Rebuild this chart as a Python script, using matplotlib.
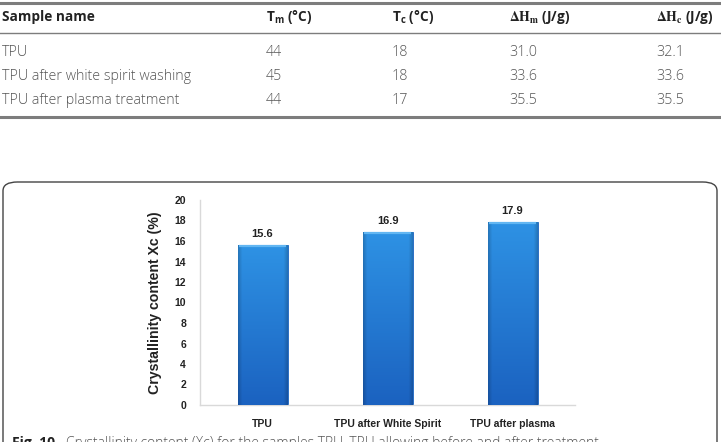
import numpy as np
import matplotlib
matplotlib.use("Agg")
from matplotlib import pyplot as plt
from matplotlib.patches import FancyBboxPatch
from matplotlib.lines import Line2D
from matplotlib.colors import to_rgb

# table data
col_heads = ["Sample name", r"$\mathbf{T_m}$ (°C)", r"$\mathbf{T_c}$ (°C)",
             r"$\mathbf{\Delta H_m}$ (J/g)", r"$\mathbf{\Delta H_c}$ (J/g)"]
sample_names = ["TPU", "TPU after white spirit washing", "TPU after plasma treatment"]
Tm = ["44", "45", "44"]
Tc = ["18", "18", "17"]
dHm = ["31.0", "33.6", "35.5"]
dHc = ["32.1", "33.6", "35.5"]

# bar chart data
samples = ["TPU", "TPU after White Spirit", "TPU after plasma"]
xc = [15.6, 16.9, 17.9]

W, H = 721, 442
plt.rcParams["mathtext.fontset"] = "custom"
plt.rcParams["mathtext.bf"] = "Open Sans:bold"
plt.rcParams["mathtext.rm"] = "Open Sans"
fig = plt.figure(figsize=(W / 100, H / 100), dpi=100)


def fx(px):
    return px / W


def fy(py):
    return 1 - py / H


# ---- table ----
for y, lw, c in [(3, 2.2, "#7d7d7d"), (33, 1.0, "#7d7d7d"), (117, 2.2, "#7d7d7d")]:
    fig.add_artist(Line2D([0, 1], [fy(y), fy(y)], lw=lw, color=c))

col_x = [2, 266, 392, 509, 656]
for i, (x, t) in enumerate(zip(col_x, col_heads)):
    mf = "stix" if i >= 3 else "custom"
    fig.text(fx(x), fy(17), t, fontsize=9.8, family="Open Sans", weight="bold",
             color="#222222", va="center", math_fontfamily=mf)

rows = list(zip(sample_names, Tm, Tc, dHm, dHc))
for i, row in enumerate(rows):
    y = [53, 77, 100][i]
    for x, t in zip(col_x, row):
        fig.text(fx(x), fy(y), t, fontsize=10.3, family="Open Sans", weight="light",
                 color="#555555", va="center")

# ---- figure box ----
box = FancyBboxPatch((fx(3), fy(470)), fx(714), fy(182) - fy(470),
                     boxstyle="round,pad=0,rounding_size=0.02",
                     transform=fig.transFigure, fill=False, ec="#444444", lw=1.0)
fig.add_artist(box)

# ---- bar chart ----
ax = fig.add_axes([fx(200), fy(405), fx(575) - fx(200), fy(200) - fy(405)])
x = np.arange(len(samples))
bw = 0.4
bars = ax.bar(x, xc, width=bw, color="#2478d2", edgecolor="#1c64c0", lw=0.6, zorder=2)

# vertical gradient with darker bevelled sides
top_c = np.array(to_rgb("#2e92e4"))
bot_c = np.array(to_rgb("#1b62c0"))
vt = np.linspace(0, 1, 80)[:, None, None]
img = bot_c * (1 - vt) + top_c * vt
hz = np.linspace(0, 1, 60)
shade = 1 - 0.18 * np.clip((0.08 - np.minimum(hz, 1 - hz)) / 0.08, 0, 1)
img = img * shade[None, :, None]
for b in bars:
    im = ax.imshow(img, extent=(b.get_x(), b.get_x() + b.get_width(), 0, b.get_height()),
                   origin="lower", aspect="auto", zorder=3)
    im.set_clip_path(b)
    ax.plot([b.get_x() + 0.012, b.get_x() + b.get_width() - 0.012],
            [b.get_height() - 0.1] * 2, color="#62b6f2", lw=1.6, zorder=4,
            solid_capstyle="butt")

for xi, v in zip(x, xc):
    ax.text(xi, v + 0.55, f"{v}", ha="center", va="bottom", fontsize=8,
            family="Liberation Sans", weight="bold", color="#222222")

ax.set_xlim(-0.5, 2.5)
ax.set_ylim(0, 20)
ax.set_yticks(range(0, 21, 2))
ax.set_xticks(x)
ax.set_xticklabels(samples)
ax.tick_params(length=0, pad=10)
ax.tick_params(axis="y", pad=10)
for lab in ax.get_xticklabels() + ax.get_yticklabels():
    lab.set_family("Liberation Sans")
    lab.set_weight("bold")
    lab.set_fontsize(7.5)
    lab.set_color("#222222")
for s in ["top", "right"]:
    ax.spines[s].set_visible(False)
for s in ["left", "bottom"]:
    ax.spines[s].set_color("#d9d9d9")
    ax.spines[s].set_linewidth(1.0)
ax.set_ylabel("Crystallinity content Xc (%)", family="Liberation Sans", weight="bold",
              fontsize=10.2, color="#222222", labelpad=9)

# caption (cut off at bottom of image, as in the reference)
fig.text(fx(12), fy(447), "Fig. 10", fontsize=10, family="Open Sans", weight="bold",
         color="#222222", va="baseline")
fig.text(fx(66), fy(447),
         "Crystallinity content (Xc) for the samples TPU, TPU allowing before and after treatment",
         fontsize=10, family="Open Sans", weight="light", color="#555555", va="baseline")

fig.savefig("out.png", dpi=100)
